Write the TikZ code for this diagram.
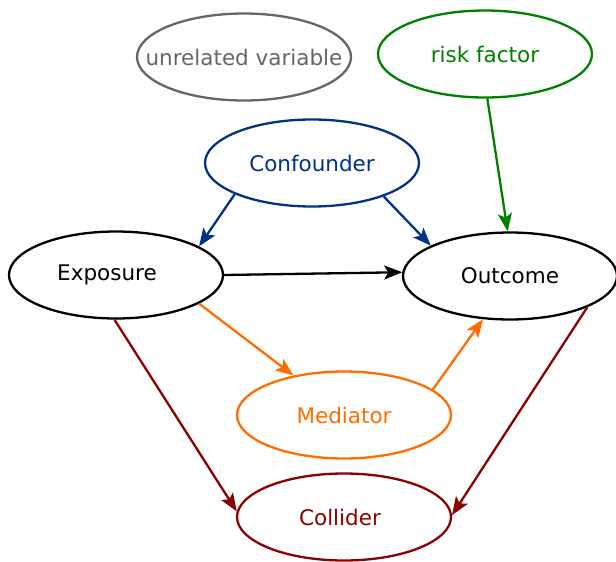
\documentclass[tikz,border=0pt]{standalone}
\usepackage{fontspec}
\setmainfont{DejaVu Sans}
\usetikzlibrary{shapes.geometric,arrows.meta}
\definecolor{cgray}{RGB}{102,102,102}
\definecolor{cgreen}{RGB}{0,128,0}
\definecolor{cblue}{RGB}{0,51,136}
\definecolor{corange}{RGB}{255,108,0}
\definecolor{cred}{RGB}{139,0,0}
% node text in a zero-width box, so every ellipse keeps its fixed size
\newcommand{\vlabel}[1]{\makebox[0pt]{#1}}
\begin{document}
\begin{tikzpicture}[x=1pt,y=-1pt,
  var/.style={ellipse,draw,line width=2.3pt,minimum width=214pt,minimum height=87pt,inner sep=0pt,font=\fontsize{21.5}{24}\selectfont},
  link/.style={line width=2.3pt,-{Stealth[length=18pt,width=14pt,inset=4pt]}}]
\useasboundingbox (0,0) rectangle (616,562);
\node[var,draw=cgray,text=cgray]   (unrel) at (244,57)  {\vlabel{unrelated variable}};
\node[var,draw=cgreen,text=cgreen] (risk)  at (485,54)  {\vlabel{risk factor}};
\node[var,draw=cblue,text=cblue]   (conf)  at (312,163) {\vlabel{Confounder}};
\node[var]                         (expo)  at (116,275) {\vlabel{\hspace*{-18pt}Exposure}};
\node[var]                         (outc)  at (510,276) {\vlabel{Outcome}};
\node[var,draw=corange,text=corange] (med) at (344,415) {\vlabel{Mediator}};
\node[var,draw=cred,text=cred]     (coll)  at (344,517) {\vlabel{\hspace*{-8pt}Collider}};
\draw[link,cblue]   (conf.202.9) -- (expo.19.4);
\draw[link,cblue]   (conf.-25.9) -- (outc.159.9);
\draw[link]         (expo.0.5)   -- (outc.178.5);
\draw[link,cgreen]  (risk.-87.5) -- (outc.93.8);
\draw[link,corange] (expo.-19)   -- (med.142.4);
\draw[link,corange] (med.16.1)   -- (outc.-122.5);
\draw[link,cred]    (expo.-92.5) -- (coll.177.9);
\draw[link,cred]    (outc.-22)   -- (coll.1.1);
\end{tikzpicture}
\end{document}
